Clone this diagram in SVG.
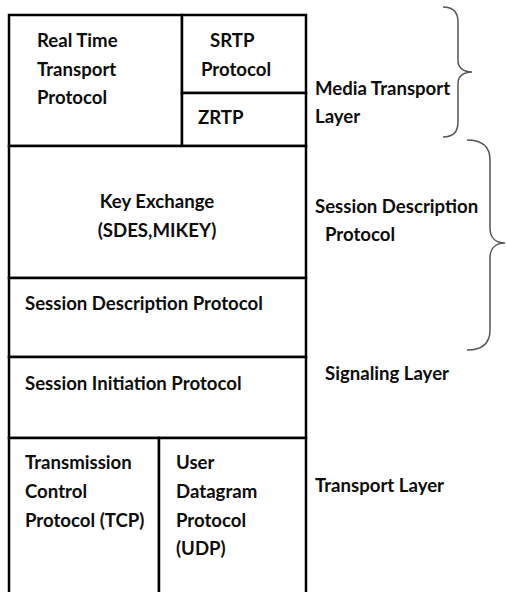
<svg xmlns="http://www.w3.org/2000/svg" width="507" height="592" viewBox="0 0 507 592">
  <style>
    .cell { fill: #ffffff; stroke: #000000; stroke-width: 2.5; }
    .t { font-family: Lato, "Open Sans", "Liberation Sans", sans-serif; font-weight: bold; font-size: 18.6px; fill: #0d0d0d; }
    .mid { text-anchor: middle; }
    .brace { fill: none; stroke: #555555; stroke-width: 1.5; }
  </style>
  <rect width="507" height="592" fill="#ffffff"/>

  <!-- protocol stack cells -->
  <g id="rtp">
    <rect class="cell" x="9" y="15" width="173" height="131"/>
    <text class="t" x="37" y="47">Real Time</text>
    <text class="t" x="37" y="76">Transport</text>
    <text class="t" x="37" y="104">Protocol</text>
  </g>
  <g id="srtp">
    <rect class="cell" x="182" y="15" width="124" height="78"/>
    <text class="t" x="210" y="47">SRTP</text>
    <text class="t" x="201" y="76">Protocol</text>
  </g>
  <g id="zrtp">
    <rect class="cell" x="182" y="93" width="124" height="53"/>
    <text class="t" x="198" y="124">ZRTP</text>
  </g>
  <g id="key-exchange">
    <rect class="cell" x="9" y="146" width="297" height="132"/>
    <text class="t mid" x="157" y="208">Key Exchange</text>
    <text class="t mid" x="157" y="237">(SDES,MIKEY)</text>
  </g>
  <g id="sdp">
    <rect class="cell" x="9" y="278" width="297" height="79"/>
    <text class="t" x="25" y="310">Session Description Protocol</text>
  </g>
  <g id="sip">
    <rect class="cell" x="9" y="357" width="297" height="81"/>
    <text class="t" x="25" y="390">Session Initiation Protocol</text>
  </g>
  <g id="tcp">
    <rect class="cell" x="9" y="438" width="150" height="170"/>
    <text class="t" x="25" y="469">Transmission</text>
    <text class="t" x="25" y="498">Control</text>
    <text class="t" x="25" y="527">Protocol (TCP)</text>
  </g>
  <g id="udp">
    <rect class="cell" x="159" y="438" width="147" height="170"/>
    <text class="t" x="176" y="469">User</text>
    <text class="t" x="176" y="498">Datagram</text>
    <text class="t" x="176" y="527">Protocol</text>
    <text class="t" x="176" y="555">(UDP)</text>
  </g>

  <!-- layer labels -->
  <g id="media-transport-layer">
    <text class="t" x="315" y="95">Media Transport</text>
    <text class="t" x="315" y="123">Layer</text>
  </g>
  <g id="session-description-layer">
    <text class="t" x="315" y="213">Session Description</text>
    <text class="t" x="325" y="241">Protocol</text>
  </g>
  <g id="signaling-layer">
    <text class="t" x="325" y="380">Signaling Layer</text>
  </g>
  <g id="transport-layer">
    <text class="t" x="315" y="492">Transport Layer</text>
  </g>

  <!-- grouping braces -->
  <g id="braces">
    <path class="brace" d="M443,7 C453,7 458,12 458,22 L458,61 C458,68 464,72 472,72 C464,72 458,76 458,83 L458,122 C458,132 453,137 443,137"/>
    <path class="brace" d="M467,140 C482,140 490,147 490,160 L490,228 C490,238 496,243 505,243 C496,243 490,248 490,258 L490,330 C490,343 482,350 467,350"/>
  </g>
</svg>
